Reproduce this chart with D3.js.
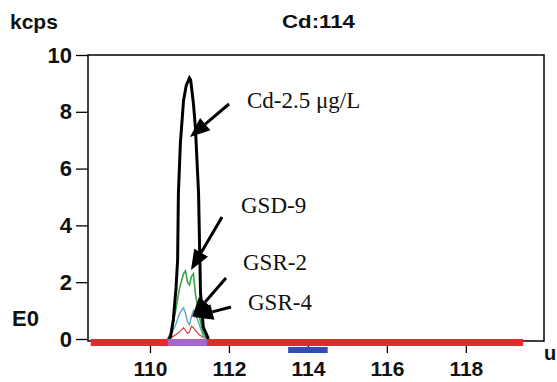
<!DOCTYPE html>
<html><head><meta charset="utf-8">
<script src="https://cdn.jsdelivr.net/npm/d3@7"></script>
<style>body{margin:0;background:#fff}svg{display:block}</style>
</head><body><div id="c"></div>
<script>
// ---- data ----
const xTicks = [110, 112, 114, 116, 118];
const yTicks = [0, 2, 4, 6, 8, 10];
const yTickLabels = ["0", "2", "4", "6", "8", "10"];
const massCd = [110.47, 110.52, 110.59, 110.66, 110.70, 110.72, 110.77, 110.85, 110.92, 111.0, 111.03, 111.10, 111.15, 111.23, 111.28, 111.35, 111.46, 111.48];
const cdStd = [0, 0.07, 0.67, 1.8, 2.78, 5.14, 6.9, 8.4, 8.94, 9.19, 9.12, 8.3, 7.46, 5.14, 1.62, 0.42, 0.07, 0];
const massS = [110.45, 110.55, 110.65, 110.75, 110.85, 110.9, 110.95, 111.0, 111.05, 111.1, 111.15, 111.25, 111.35, 111.45];
const gsd9 = [0, 0.3, 1.0, 1.8, 2.3, 2.4, 2.0, 1.9, 2.2, 2.3, 1.6, 0.8, 0.2, 0];
const gsr2 = [0, 0.2, 0.5, 0.9, 1.1, 0.9, 0.6, 0.5, 0.8, 1.0, 0.9, 0.5, 0.1, 0];
const gsr4 = [0, 0.05, 0.15, 0.25, 0.4, 0.3, 0.2, 0.25, 0.45, 0.4, 0.3, 0.15, 0.05, 0];
const scanRange = [108.5, 119.45];
const peakWindow = [110.45, 111.45];
const massWindow = [113.5, 114.5];
const labels = ["Cd-2.5 μg/L", "GSD-9", "GSR-2", "GSR-4"];
const title = "Cd:114";
const yUnit = "kcps";

// ---- layout ----
const W = 557, H = 382;
const x = d3.scaleLinear().domain([108.43, 119.98]).range([88, 544]);
const y = d3.scaleLinear().domain([0, 10]).range([339, 55]);

const svg = d3.select("#c").append("svg").attr("width", W).attr("height", H);
const sans = "'Liberation Sans', Arial, sans-serif";
const serif = "'Liberation Serif', 'Times New Roman', serif";

// frame
svg.append("rect").attr("x", 88).attr("y", 55).attr("width", 456).attr("height", 286)
  .attr("fill", "none").attr("stroke", "#000").attr("stroke-width", 1.5);

// y axis
const yAxis = d3.axisLeft(y).tickValues(yTicks).tickFormat((d, i) => yTickLabels[i]).tickSize(12).tickPadding(4);
const ga = svg.append("g").attr("transform", "translate(88,0)").call(yAxis);
ga.select(".domain").remove();
ga.selectAll("line").attr("stroke", "#000").attr("stroke-width", 1.3);
ga.selectAll("text").attr("font-family", sans).attr("font-weight", "bold").attr("font-size", 22).attr("fill", "#111");

// x axis
const xAxis = d3.axisBottom(x).tickValues(xTicks).tickSize(12).tickPadding(8);
const gx = svg.append("g").attr("transform", "translate(0,341)").call(xAxis);
gx.select(".domain").remove();
gx.selectAll("line").attr("stroke", "#000").attr("stroke-width", 1.3);
gx.selectAll("text").attr("font-family", sans).attr("font-weight", "bold").attr("font-size", 21).attr("fill", "#111");

// texts
svg.append("text").attr("x", 10).attr("y", 29).text(yUnit)
  .attr("font-family", sans).attr("font-weight", "bold").attr("font-size", 21).attr("fill", "#111");
svg.append("text").attr("x", 282).attr("y", 28).text(title).attr("textLength", 73).attr("lengthAdjust", "spacingAndGlyphs")
  .attr("font-family", sans).attr("font-weight", "bold").attr("font-size", 19).attr("fill", "#111");
svg.append("text").attr("x", 12).attr("y", 326).text("E0")
  .attr("font-family", sans).attr("font-weight", "bold").attr("font-size", 22).attr("fill", "#111");
svg.append("text").attr("x", 544).attr("y", 360).text("u")
  .attr("font-family", sans).attr("font-weight", "bold").attr("font-size", 20).attr("fill", "#111");

// lines
const line = (xs) => d3.line().x((d, i) => x(xs[i])).y(d => y(d));
svg.append("path").datum(gsr4).attr("d", line(massS)).attr("fill", "none").attr("stroke", "#d84040").attr("stroke-width", 1.2);
svg.append("path").datum(gsr2).attr("d", line(massS)).attr("fill", "none").attr("stroke", "#58a8c8").attr("stroke-width", 1.4);
svg.append("path").datum(gsd9).attr("d", line(massS)).attr("fill", "none").attr("stroke", "#38a548").attr("stroke-width", 1.6);
svg.append("path").datum(cdStd).attr("d", line(massCd)).attr("fill", "none").attr("stroke", "#000").attr("stroke-width", 3).attr("stroke-linejoin", "miter");

// bars along the base
svg.append("rect").attr("x", x(scanRange[0])).attr("width", x(scanRange[1]) - x(scanRange[0]))
  .attr("y", 339).attr("height", 7).attr("fill", "#e8262b");
svg.append("rect").attr("x", x(peakWindow[0])).attr("width", x(peakWindow[1]) - x(peakWindow[0]))
  .attr("y", 339).attr("height", 7).attr("fill", "#a866c8");
svg.append("rect").attr("x", x(massWindow[0])).attr("width", x(massWindow[1]) - x(massWindow[0]))
  .attr("y", 347).attr("height", 6).attr("fill", "#2a4fb5");

// annotations
const ann = [
  {t: labels[0], tx: 247, ty: 108, x1: 229, y1: 104, x2: 190, y2: 137},
  {t: labels[1], tx: 241, ty: 213, x1: 222, y1: 217, x2: 191, y2: 270},
  {t: labels[2], tx: 243, ty: 270, x1: 226, y1: 278, x2: 192, y2: 317},
  {t: labels[3], tx: 248, ty: 310, x1: 231, y1: 307, x2: 193, y2: 317}
];
ann.forEach(a => {
  svg.append("text").attr("x", a.tx).attr("y", a.ty).text(a.t)
    .attr("font-family", serif).attr("font-size", 23).attr("fill", "#111");
  const ang = Math.atan2(a.y2 - a.y1, a.x2 - a.x1);
  const L = 20, Wd = 8;
  const bx = a.x2 - L * Math.cos(ang), by = a.y2 - L * Math.sin(ang);
  svg.append("line").attr("x1", a.x1).attr("y1", a.y1).attr("x2", bx).attr("y2", by)
    .attr("stroke", "#000").attr("stroke-width", 3);
  const px = -Math.sin(ang) * Wd, py = Math.cos(ang) * Wd;
  svg.append("path").attr("d", `M${a.x2},${a.y2}L${bx + px},${by + py}L${bx - px},${by - py}Z`).attr("fill", "#000");
});
</script></body></html>
